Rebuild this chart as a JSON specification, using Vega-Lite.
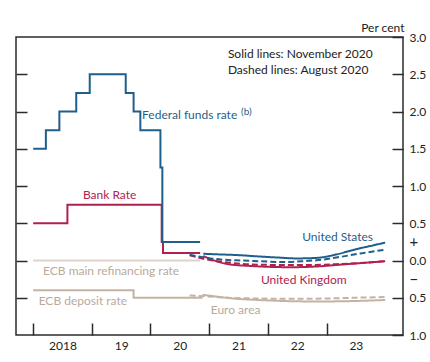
{
  "$schema": "https://vega.github.io/schema/vega-lite/v6.json",
  "width": 387,
  "height": 298,
  "autosize": {"type": "none"},
  "padding": {"left": 16, "top": 37, "right": 27, "bottom": 27},
  "background": "white",
  "config": {
    "view": {"stroke": "#2b2b2b", "strokeWidth": 1.5},
    "font": "Lato",
    "axis": {"labelFont": "Lato", "titleFont": "Lato"}
  },
  "datasets": {
    "policy": [
      {"series": "EAmain", "date": "2018-01-01", "rate": 0},
      {"series": "EAmain", "date": "2020-11-05", "rate": 0},
      {"series": "EA", "date": "2018-01-01", "rate": -0.4},
      {"series": "EA", "date": "2019-09-18", "rate": -0.5},
      {"series": "EA", "date": "2020-11-20", "rate": -0.5},
      {"series": "UK", "date": "2018-01-01", "rate": 0.5},
      {"series": "UK", "date": "2018-08-02", "rate": 0.75},
      {"series": "UK", "date": "2020-03-11", "rate": 0.25},
      {"series": "UK", "date": "2020-03-19", "rate": 0.1},
      {"series": "UK", "date": "2020-11-05", "rate": 0.1},
      {"series": "US", "date": "2018-01-01", "rate": 1.5},
      {"series": "US", "date": "2018-03-21", "rate": 1.75},
      {"series": "US", "date": "2018-06-13", "rate": 2.0},
      {"series": "US", "date": "2018-09-26", "rate": 2.25},
      {"series": "US", "date": "2018-12-19", "rate": 2.5},
      {"series": "US", "date": "2019-07-31", "rate": 2.25},
      {"series": "US", "date": "2019-09-18", "rate": 2.0},
      {"series": "US", "date": "2019-10-30", "rate": 1.75},
      {"series": "US", "date": "2020-03-03", "rate": 1.25},
      {"series": "US", "date": "2020-03-15", "rate": 0.25},
      {"series": "US", "date": "2020-11-05", "rate": 0.25}
    ],
    "forward": [
      {"series": "EA", "vintage": "Aug", "date": "2020-09-01", "rate": -0.47},
      {"series": "EA", "vintage": "Aug", "date": "2020-12-01", "rate": -0.48},
      {"series": "EA", "vintage": "Aug", "date": "2021-05-01", "rate": -0.5},
      {"series": "EA", "vintage": "Aug", "date": "2021-11-01", "rate": -0.51},
      {"series": "EA", "vintage": "Aug", "date": "2022-06-01", "rate": -0.515},
      {"series": "EA", "vintage": "Aug", "date": "2023-01-01", "rate": -0.51},
      {"series": "EA", "vintage": "Aug", "date": "2023-07-01", "rate": -0.5},
      {"series": "EA", "vintage": "Aug", "date": "2024-01-01", "rate": -0.49},
      {"series": "EA", "vintage": "Nov", "date": "2020-11-20", "rate": -0.46},
      {"series": "EA", "vintage": "Nov", "date": "2021-02-01", "rate": -0.48},
      {"series": "EA", "vintage": "Nov", "date": "2021-06-01", "rate": -0.51},
      {"series": "EA", "vintage": "Nov", "date": "2021-11-01", "rate": -0.53},
      {"series": "EA", "vintage": "Nov", "date": "2022-05-01", "rate": -0.545},
      {"series": "EA", "vintage": "Nov", "date": "2022-11-01", "rate": -0.55},
      {"series": "EA", "vintage": "Nov", "date": "2023-06-01", "rate": -0.545},
      {"series": "EA", "vintage": "Nov", "date": "2024-01-01", "rate": -0.53},
      {"series": "UK", "vintage": "Aug", "date": "2020-09-01", "rate": 0.07},
      {"series": "UK", "vintage": "Aug", "date": "2020-12-01", "rate": 0.02},
      {"series": "UK", "vintage": "Aug", "date": "2021-04-01", "rate": -0.02},
      {"series": "UK", "vintage": "Aug", "date": "2021-09-01", "rate": -0.05},
      {"series": "UK", "vintage": "Aug", "date": "2022-03-01", "rate": -0.06},
      {"series": "UK", "vintage": "Aug", "date": "2022-09-01", "rate": -0.06},
      {"series": "UK", "vintage": "Aug", "date": "2023-03-01", "rate": -0.05},
      {"series": "UK", "vintage": "Aug", "date": "2023-09-01", "rate": -0.03},
      {"series": "UK", "vintage": "Aug", "date": "2024-01-01", "rate": -0.01},
      {"series": "UK", "vintage": "Nov", "date": "2020-11-25", "rate": 0.06},
      {"series": "UK", "vintage": "Nov", "date": "2021-02-01", "rate": 0.0},
      {"series": "UK", "vintage": "Nov", "date": "2021-05-01", "rate": -0.05},
      {"series": "UK", "vintage": "Nov", "date": "2021-10-01", "rate": -0.075},
      {"series": "UK", "vintage": "Nov", "date": "2022-03-01", "rate": -0.088},
      {"series": "UK", "vintage": "Nov", "date": "2022-06-01", "rate": -0.09},
      {"series": "UK", "vintage": "Nov", "date": "2022-11-01", "rate": -0.08},
      {"series": "UK", "vintage": "Nov", "date": "2023-04-01", "rate": -0.055},
      {"series": "UK", "vintage": "Nov", "date": "2023-09-01", "rate": -0.03},
      {"series": "UK", "vintage": "Nov", "date": "2024-01-01", "rate": -0.01},
      {"series": "US", "vintage": "Aug", "date": "2020-09-01", "rate": 0.077},
      {"series": "US", "vintage": "Aug", "date": "2020-12-01", "rate": 0.04},
      {"series": "US", "vintage": "Aug", "date": "2021-04-01", "rate": 0.01},
      {"series": "US", "vintage": "Aug", "date": "2021-08-01", "rate": 0.0},
      {"series": "US", "vintage": "Aug", "date": "2022-01-01", "rate": -0.015},
      {"series": "US", "vintage": "Aug", "date": "2022-04-01", "rate": -0.02},
      {"series": "US", "vintage": "Aug", "date": "2022-08-01", "rate": -0.01},
      {"series": "US", "vintage": "Aug", "date": "2022-12-01", "rate": 0.01},
      {"series": "US", "vintage": "Aug", "date": "2023-04-01", "rate": 0.05},
      {"series": "US", "vintage": "Aug", "date": "2023-08-01", "rate": 0.095},
      {"series": "US", "vintage": "Aug", "date": "2024-01-01", "rate": 0.145},
      {"series": "US", "vintage": "Nov", "date": "2020-11-25", "rate": 0.09},
      {"series": "US", "vintage": "Nov", "date": "2021-03-01", "rate": 0.082},
      {"series": "US", "vintage": "Nov", "date": "2021-07-01", "rate": 0.072},
      {"series": "US", "vintage": "Nov", "date": "2021-11-01", "rate": 0.055},
      {"series": "US", "vintage": "Nov", "date": "2022-03-01", "rate": 0.04},
      {"series": "US", "vintage": "Nov", "date": "2022-07-01", "rate": 0.028},
      {"series": "US", "vintage": "Nov", "date": "2022-11-01", "rate": 0.035},
      {"series": "US", "vintage": "Nov", "date": "2023-03-01", "rate": 0.08},
      {"series": "US", "vintage": "Nov", "date": "2023-07-01", "rate": 0.15},
      {"series": "US", "vintage": "Nov", "date": "2023-10-01", "rate": 0.195},
      {"series": "US", "vintage": "Nov", "date": "2024-01-01", "rate": 0.24}
    ],
    "labels": [
      {"series": "US", "label": "Federal funds rate", "date": "2020-09-01", "rate": 1.95, "size": 12},
      {"series": "US", "label": "(b)", "date": "2021-08-20", "rate": 2.0, "size": 10},
      {"series": "UK", "label": "Bank Rate", "date": "2019-04-22", "rate": 0.885, "size": 12},
      {"series": "US", "label": "United States", "date": "2023-03-11", "rate": 0.315, "size": 12},
      {"series": "UK", "label": "United Kingdom", "date": "2022-08-12", "rate": -0.26, "size": 12},
      {"series": "EAlab", "label": "ECB main refinancing rate", "date": "2019-05-01", "rate": -0.135, "size": 12},
      {"series": "EAlab", "label": "ECB deposit rate", "date": "2018-11-06", "rate": -0.54, "size": 12},
      {"series": "EAlab", "label": "Euro area", "date": "2021-06-14", "rate": -0.67, "size": 12}
    ],
    "key": [
      {"label": "Solid lines: November 2020", "date": "2021-04-27", "rate": 2.77},
      {"label": "Dashed lines: August 2020", "date": "2021-04-27", "rate": 2.56}
    ]
  },
  "encoding": {
    "x": {
      "field": "date",
      "type": "temporal",
      "scale": {
        "type": "utc",
        "domain": [
          {"year": 2017, "month": 9, "date": 16, "utc": true},
          {"year": 2024, "month": 4, "date": 21, "utc": true}
        ]
      },
      "axis": {
        "title": null,
        "domain": false,
        "grid": false,
        "values": [
          {"year": 2018, "month": 1, "date": 1, "utc": true},
          {"year": 2019, "month": 1, "date": 1, "utc": true},
          {"year": 2020, "month": 1, "date": 1, "utc": true},
          {"year": 2021, "month": 1, "date": 1, "utc": true},
          {"year": 2022, "month": 1, "date": 1, "utc": true},
          {"year": 2023, "month": 1, "date": 1, "utc": true}
        ],
        "labelExpr": "utcFormat(datum.value, '%Y') == '2018' ? '2018' : utcFormat(datum.value, '%y')",
        "labelOffset": 29.3,
        "labelAlign": "center",
        "labelBaseline": "top",
        "labelFontSize": 12,
        "labelColor": "#222",
        "labelPadding": 17,
        "tickSize": -12,
        "tickColor": "#2b2b2b",
        "tickWidth": 1.5
      }
    }
  },
  "resolve": {"axis": {"y": "independent"}},
  "layer": [
    {
      "data": {"name": "policy"},
      "mark": {"type": "line", "interpolate": "step-after", "strokeWidth": 2},
      "encoding": {
        "y": {
          "field": "rate",
          "type": "quantitative",
          "scale": {"domain": [-1, 3], "nice": false, "zero": false},
          "axis": {
            "orient": "left",
            "title": null,
            "domain": false,
            "grid": false,
            "labels": false,
            "values": [-0.5, 0, 0.5, 1, 1.5, 2, 2.5],
            "tickSize": -11,
            "tickColor": "#2b2b2b",
            "tickWidth": 1.5
          }
        },
        "color": {
          "field": "series",
          "type": "nominal",
          "scale": {
            "domain": ["US", "UK", "EA", "EAmain", "EAlab"],
            "range": ["#1f5f8b", "#b0214f", "#c4b3a3", "#ddd3ca", "#b9aa9c"]
          },
          "legend": null
        },
        "strokeWidth": {
          "condition": {"test": "datum.series == 'EAmain'", "value": 1.5},
          "value": 2
        }
      }
    },
    {
      "data": {"name": "forward"},
      "mark": {"type": "line", "interpolate": "monotone", "strokeWidth": 2},
      "encoding": {
        "y": {
          "field": "rate",
          "type": "quantitative",
          "scale": {"domain": [-1, 3], "nice": false, "zero": false},
          "axis": {
            "orient": "right",
            "title": "Per cent",
            "titleAngle": 0,
            "titleAlign": "right",
            "titleBaseline": "alphabetic",
            "titleX": 1,
            "titleY": -6,
            "titleFontSize": 12,
            "titleFontWeight": "normal",
            "titleColor": "#222",
            "domain": false,
            "grid": false,
            "values": [-1, -0.5, -0.25, 0, 0.25, 0.5, 1, 1.5, 2, 2.5, 3],
            "labelExpr": "datum.value == 0.25 ? '+' : (datum.value == -0.25 ? '\u2212' : format(abs(datum.value), '.1f'))",
            "labelFontSize": {
              "condition": {"test": "abs(datum.value) == 0.25", "value": 15},
              "value": 12
            },
            "labelColor": "#222",
            "labelAlign": "left",
            "labelBaseline": "middle",
            "labelPadding": 17,
            "tickSize": -11,
            "tickColor": "#2b2b2b",
            "tickWidth": 1.5,
            "tickOpacity": {
              "condition": {"test": "abs(datum.value) == 0.25", "value": 0},
              "value": 1
            }
          }
        },
        "color": {"field": "series", "type": "nominal", "legend": null},
        "strokeDash": {
          "field": "vintage",
          "type": "nominal",
          "scale": {"domain": ["Nov", "Aug"], "range": [[1, 0], [6, 3]]},
          "legend": null
        }
      }
    },
    {
      "data": {"name": "labels"},
      "mark": {"type": "text", "align": "center", "baseline": "middle", "font": "Lato"},
      "encoding": {
        "y": {
          "field": "rate",
          "type": "quantitative",
          "scale": {"domain": [-1, 3], "nice": false, "zero": false},
          "axis": null
        },
        "text": {"field": "label"},
        "size": {"field": "size", "type": "quantitative", "scale": null},
        "color": {"field": "series", "type": "nominal", "legend": null}
      }
    },
    {
      "data": {"name": "key"},
      "mark": {"type": "text", "align": "left", "baseline": "middle", "font": "Lato", "fontSize": 12, "color": "#222"},
      "encoding": {
        "y": {
          "field": "rate",
          "type": "quantitative",
          "scale": {"domain": [-1, 3], "nice": false, "zero": false},
          "axis": null
        },
        "text": {"field": "label"}
      }
    }
  ]
}
